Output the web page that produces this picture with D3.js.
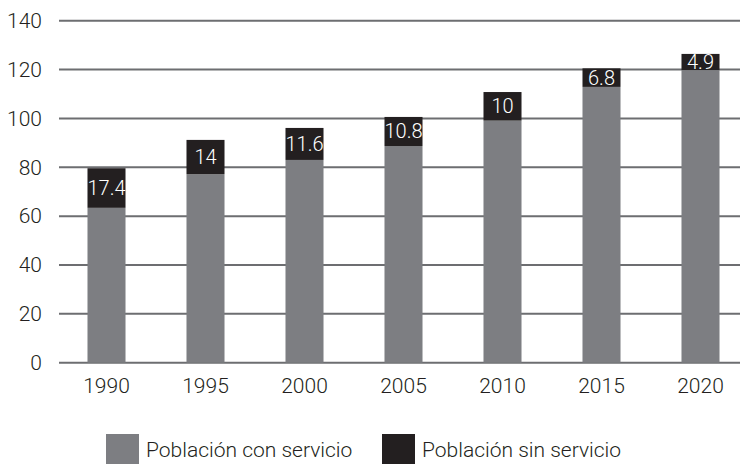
<!DOCTYPE html>
<html>
<head>
<meta charset="utf-8">
<script src="https://cdn.jsdelivr.net/npm/d3@7"></script>
<style>
  body { margin: 0; background: #fff; }
  svg text { font-family: Roboto, "Liberation Sans", sans-serif; font-weight: 300; }
</style>
</head>
<body>
<svg id="chart" width="740" height="465"></svg>
<script>
// values
const years = ['1990', '1995', '2000', '2005', '2010', '2015', '2020'];
const conServicio = [63.4, 77.2, 83.0, 88.7, 99.1, 112.9, 119.8];
const sinServicio = [16.2, 14.0, 13.1, 11.9, 11.7, 7.6, 6.6];
const sinLabels = ['17.4', '14', '11.6', '10.8', '10', '6.8', '4.9'];
const yTicks = [0, 20, 40, 60, 80, 100, 120, 140];
const series = ['Población con servicio', 'Población sin servicio'];
const colors = ['#7d7e82', '#231f20'];

const svg = d3.select('#chart');

const x = d3.scaleBand()
    .domain(years)
    .range([57, 750])
    .paddingInner(0.616)
    .paddingOuter(0.308);

const y = d3.scaleLinear()
    .domain([0, 140])
    .range([362.7, 20.7]);

// grid lines
svg.append('g')
    .selectAll('line')
    .data(yTicks)
    .join('line')
    .attr('x1', 59).attr('x2', 740)
    .attr('y1', d => y(d)).attr('y2', d => y(d))
    .attr('stroke', '#6d6e71')
    .attr('stroke-width', 2);

// y labels
svg.append('g')
    .selectAll('text')
    .data(yTicks)
    .join('text')
    .attr('x', 42)
    .attr('y', d => y(d))
    .attr('dy', '0.35em')
    .attr('text-anchor', 'end')
    .attr('font-size', 21)
    .attr('fill', '#231f20')
    .text(d => d);

const rows = years.map((yr, i) => ({ yr, con: conServicio[i], sin: sinServicio[i], label: sinLabels[i] }));

const bars = svg.append('g');

bars.selectAll('rect.con')
    .data(rows)
    .join('rect')
    .attr('class', 'con')
    .attr('x', d => x(d.yr))
    .attr('width', x.bandwidth())
    .attr('y', d => y(d.con))
    .attr('height', d => y(0) - y(d.con))
    .attr('fill', colors[0]);

bars.selectAll('rect.sin')
    .data(rows)
    .join('rect')
    .attr('class', 'sin')
    .attr('x', d => x(d.yr))
    .attr('width', x.bandwidth())
    .attr('y', d => y(d.con + d.sin))
    .attr('height', d => y(d.con) - y(d.con + d.sin))
    .attr('fill', colors[1]);

bars.selectAll('text')
    .data(rows)
    .join('text')
    .attr('x', d => x(d.yr) + x.bandwidth() / 2)
    .attr('y', d => y(d.con + d.sin / 2))
    .attr('dy', '0.35em')
    .attr('text-anchor', 'middle')
    .attr('font-size', 20)
    .attr('fill', '#fff')
    .text(d => d.label);

// x labels
svg.append('g')
    .selectAll('text')
    .data(years)
    .join('text')
    .attr('x', d => x(d) + x.bandwidth() / 2)
    .attr('y', 386)
    .attr('dy', '0.35em')
    .attr('text-anchor', 'middle')
    .attr('font-size', 21)
    .attr('fill', '#231f20')
    .text(d => d);

// legend
const legend = svg.append('g');
const legX = [106, 382];
series.forEach((s, i) => {
    legend.append('rect')
        .attr('x', legX[i]).attr('y', 434)
        .attr('width', 33).attr('height', 30)
        .attr('fill', colors[i]);
    legend.append('text')
        .attr('x', legX[i] + 40)
        .attr('y', 450)
        .attr('dy', '0.35em')
        .attr('font-size', 21)
        .attr('fill', '#231f20')
        .text(s);
});
</script>
</body>
</html>
